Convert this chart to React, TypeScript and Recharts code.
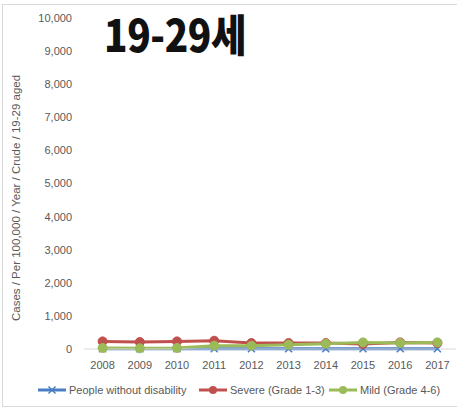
import { LineChart, Line, XAxis, YAxis } from "recharts";

const years = ["2008", "2009", "2010", "2011", "2012", "2013", "2014", "2015", "2016", "2017"];
const withoutDisability = [8, 8, 8, 8, 8, 8, 8, 8, 8, 8];
const severe = [230, 210, 230, 250, 180, 180, 180, 150, 200, 180];
const mild = [30, 20, 30, 100, 100, 130, 160, 200, 180, 200];
const yTicks = [0, 1000, 2000, 3000, 4000, 5000, 6000, 7000, 8000, 9000, 10000];

const series = [
  { key: "none", name: "People without disability", color: "#4A7EC4", marker: "x" },
  { key: "severe", name: "Severe (Grade 1-3)", color: "#C0504D", marker: "circle" },
  { key: "mild", name: "Mild (Grade 4-6)", color: "#9BBB59", marker: "circle" },
];

const data = years.map((year, i) => ({
  year,
  none: withoutDisability[i],
  severe: severe[i],
  mild: mild[i],
}));

const font = "'Liberation Sans', Arial, sans-serif";

const XDot = (props: any) => {
  const { cx, cy, stroke } = props;
  if (cx == null || cy == null) return null;
  return (
    <g>
      <line x1={cx - 3.5} y1={cy - 3.5} x2={cx + 3.5} y2={cy + 3.5} stroke={stroke} strokeWidth={1.5} />
      <line x1={cx - 3.5} y1={cy + 3.5} x2={cx + 3.5} y2={cy - 3.5} stroke={stroke} strokeWidth={1.5} />
    </g>
  );
};

const legendPos = [38, 199, 329];

export default function App() {
  return (
    <div style={{ position: "absolute", left: 0, top: 0, width: 457, height: 408, background: "#fff", overflow: "hidden" }}>
      {/* frame */}
      <div
        style={{
          position: "absolute",
          left: 2,
          top: 4,
          width: 470,
          height: 401,
          border: "1px solid #d9d9d9",
          borderRight: "none",
        }}
      />
      <div style={{ position: "absolute", left: 0, top: 0 }}>
        <LineChart width={457} height={408} data={data} margin={{ top: 18, right: 1, bottom: 29, left: 0 }}>
          <XAxis
            dataKey="year"
            axisLine={{ stroke: "#d9d9d9" }}
            tickLine={false}
            tick={{ fill: "#595959", fontSize: 11, fontFamily: font }}
            tickMargin={6}
            height={30}
            padding={{ left: 18.6, right: 18.6 }}
          />
          <YAxis
            domain={[0, 10000]}
            ticks={yTicks}
            axisLine={false}
            tickLine={false}
            width={84}
            tickMargin={6}
            tick={{ fill: "#595959", fontSize: 11, fontFamily: font }}
            tickFormatter={(v: number) => v.toLocaleString("en-US")}
          />
          {series.map((s) => (
            <Line
              key={s.key}
              dataKey={s.key}
              name={s.name}
              stroke={s.color}
              strokeWidth={3}
              isAnimationActive={false}
              dot={s.marker === "x" ? <XDot /> : { r: 4.5, fill: s.color, stroke: s.color, strokeWidth: 1 }}
              activeDot={false}
            />
          ))}
        </LineChart>
      </div>
      {/* title */}
      <div
        style={{
          position: "absolute",
          left: 104,
          top: 3,
          fontFamily: "'Noto Sans CJK KR', sans-serif",
          fontWeight: 900,
          fontSize: 44,
          lineHeight: "60px",
          color: "#111",
          letterSpacing: -0.5,
          transform: "scaleX(0.88)",
          transformOrigin: "left center",
          whiteSpace: "nowrap",
        }}
      >
        19-29세
      </div>
      {/* y axis title */}
      <div
        style={{
          position: "absolute",
          left: 16,
          top: 198,
          transform: "translate(-50%, -50%) rotate(-90deg)",
          whiteSpace: "nowrap",
          fontFamily: font,
          fontSize: 11.5,
          color: "#595959",
        }}
      >
        Cases / Per 100,000 / Year / Crude / 19-29 aged
      </div>
      {/* legend */}
      {series.map((s, i) => (
        <div
          key={s.key}
          style={{
            position: "absolute",
            left: legendPos[i],
            top: 383,
            display: "flex",
            alignItems: "center",
            fontFamily: font,
            fontSize: 11,
            color: "#595959",
            whiteSpace: "nowrap",
          }}
        >
          <svg width={29} height={14} style={{ marginRight: 2 }}>
            <line x1={0} y1={7} x2={28} y2={7} stroke={s.color} strokeWidth={3} />
            {s.marker === "x" ? (
              <XDot cx={14} cy={7} stroke={s.color} />
            ) : (
              <circle cx={14} cy={7} r={4} fill={s.color} />
            )}
          </svg>
          {s.name}
        </div>
      ))}
    </div>
  );
}
